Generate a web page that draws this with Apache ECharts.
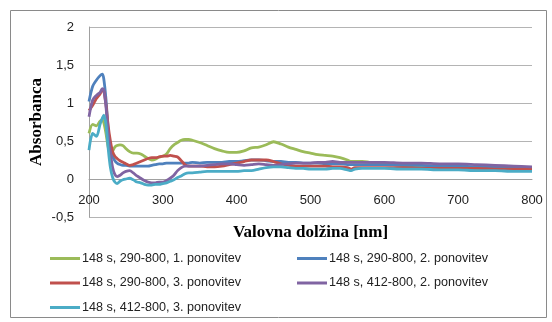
<!DOCTYPE html>
<html><head><meta charset="utf-8">
<script src="https://cdn.jsdelivr.net/npm/echarts@6/dist/echarts.min.js"></script>
<style>html,body{margin:0;padding:0;background:#fff}#c{width:552px;height:322px}</style>
</head><body><div id="c"></div>
<script>
const wavelengths = [200,205,210,215,218,220,223,226,229,232,235,238,242,246,250,255,260,265,270,275,280,285,290,295,300,305,310,315,320,325,330,335,340,350,360,370,380,390,400,410,420,430,440,450,460,470,480,490,500,510,520,530,540,550,555,560,570,580,600,625,650,675,700,725,750,775,800];
const seriesNames = ['148 s, 290-800, 1. ponovitev','148 s, 290-800, 2. ponovitev','148 s, 290-800, 3. ponovitev','148 s, 412-800, 2. ponovitev','148 s, 412-800, 3. ponovitev'];
const green = [0.6,0.72,0.70,0.76,0.78,0.74,0.60,0.42,0.36,0.37,0.42,0.44,0.45,0.44,0.40,0.36,0.34,0.34,0.33,0.30,0.27,0.25,0.26,0.29,0.30,0.33,0.40,0.45,0.48,0.51,0.52,0.52,0.51,0.48,0.44,0.40,0.37,0.35,0.35,0.37,0.41,0.42,0.45,0.49,0.46,0.42,0.39,0.36,0.34,0.32,0.31,0.30,0.28,0.25,0.23,0.23,0.23,0.22,0.20,0.18,0.17,0.16,0.15,0.14,0.14,0.13,0.12];
const blue = [1.02,1.22,1.30,1.36,1.38,1.32,1.05,0.65,0.40,0.30,0.24,0.21,0.19,0.18,0.18,0.17,0.17,0.17,0.17,0.17,0.17,0.18,0.19,0.20,0.20,0.21,0.21,0.21,0.21,0.21,0.21,0.21,0.22,0.21,0.22,0.22,0.22,0.23,0.23,0.24,0.25,0.25,0.24,0.23,0.23,0.22,0.22,0.21,0.21,0.21,0.20,0.20,0.20,0.19,0.19,0.19,0.19,0.19,0.19,0.18,0.18,0.17,0.17,0.16,0.16,0.15,0.15];
const red = [0.90,0.97,1.06,1.12,1.17,1.16,0.98,0.70,0.50,0.36,0.30,0.27,0.24,0.22,0.20,0.18,0.19,0.21,0.23,0.25,0.27,0.28,0.28,0.29,0.30,0.30,0.31,0.30,0.29,0.24,0.19,0.17,0.17,0.17,0.16,0.16,0.17,0.19,0.21,0.23,0.25,0.25,0.25,0.23,0.20,0.18,0.17,0.17,0.17,0.17,0.17,0.16,0.16,0.15,0.13,0.15,0.15,0.15,0.15,0.15,0.14,0.14,0.14,0.14,0.13,0.13,0.13];
const purple = [0.82,1.04,1.10,1.14,1.19,1.17,0.95,0.60,0.35,0.15,0.06,0.03,0.05,0.08,0.10,0.11,0.08,0.04,0.01,-0.02,-0.04,-0.05,-0.05,-0.04,-0.04,-0.02,0.01,0.05,0.11,0.15,0.17,0.17,0.17,0.17,0.18,0.19,0.20,0.20,0.19,0.18,0.19,0.20,0.19,0.18,0.19,0.20,0.21,0.21,0.21,0.22,0.22,0.23,0.22,0.22,0.22,0.22,0.22,0.22,0.22,0.21,0.21,0.20,0.20,0.19,0.18,0.17,0.16];
const cyan = [0.38,0.60,0.56,0.72,0.80,0.84,0.72,0.40,0.15,0.02,-0.04,-0.06,-0.03,-0.01,0.00,0.01,-0.01,-0.04,-0.05,-0.07,-0.08,-0.08,-0.07,-0.07,-0.06,-0.05,-0.03,-0.01,0.02,0.04,0.07,0.08,0.08,0.09,0.10,0.10,0.10,0.10,0.10,0.11,0.11,0.13,0.15,0.16,0.16,0.15,0.14,0.14,0.13,0.13,0.13,0.14,0.14,0.12,0.11,0.13,0.14,0.14,0.14,0.13,0.13,0.12,0.12,0.11,0.11,0.10,0.10];
const colors = ['#9BBB59','#4F81BD','#C0504D','#8064A2','#4BACC6'];
const allValues = [green, blue, red, purple, cyan];

const chart = echarts.init(document.getElementById('c'), null, {renderer:'canvas'});
const axisFont = {fontFamily:'Liberation Sans', fontSize:13, color:'#222'};
const legendText = {fontFamily:'Liberation Sans', fontSize:12.6, color:'#222', padding:[0,0,0,-3]};
chart.setOption({
  animation:false,
  backgroundColor:'#fff',
  grid:{left:89, right:20, top:27, bottom:105},
  graphic:[{type:'rect', shape:{x:10.5,y:10.5,width:536,height:307}, style:{fill:'none', stroke:'#8a8a8a', lineWidth:1}, silent:true}],
  xAxis:{type:'value', min:200, max:800, interval:100, offset:-38,
    name:'Valovna dolžina [nm]', nameLocation:'middle', nameGap:45,
    nameTextStyle:{fontFamily:'Liberation Serif', fontWeight:'bold', fontSize:17, color:'#000'},
    axisLine:{onZero:false, lineStyle:{color:'#a0a0a0', width:1}},
    axisTick:{show:false}, splitLine:{show:false},
    axisLabel:Object.assign({margin:15}, axisFont)},
  yAxis:{type:'value', min:-0.5, max:2, interval:0.5,
    name:'Absorbanca', nameLocation:'middle', nameGap:44, nameMoveOverlap:false,
    nameTextStyle:{fontFamily:'Liberation Serif', fontWeight:'bold', fontSize:17, color:'#000'},
    axisLine:{show:true, lineStyle:{color:'#a0a0a0', width:1}},
    axisTick:{show:false},
    splitLine:{show:true, lineStyle:{color:'#b4b4b4', width:1}},
    axisLabel:Object.assign({margin:15, formatter:v=>String(v).replace('.',',')}, axisFont)},
  legend:[
    {left:50, top:252, height:90, padding:0, orient:'vertical', itemWidth:30, itemHeight:3, itemGap:11.5, icon:'rect', textStyle:legendText,
     data:[seriesNames[0], seriesNames[2], seriesNames[4]]},
    {left:297, top:252, height:90, padding:0, orient:'vertical', itemWidth:30, itemHeight:3, itemGap:11.5, icon:'rect', textStyle:legendText,
     data:[seriesNames[1], seriesNames[3]]}
  ],
  series: allValues.map((vals,i)=>({
    name:seriesNames[i], type:'line', showSymbol:false, symbol:'none',
    smooth:0.3, color:colors[i], lineStyle:{width:2.8, color:colors[i]},
    data: wavelengths.map((w,j)=>[w, vals[j]])
  }))
});
</script></body></html>
